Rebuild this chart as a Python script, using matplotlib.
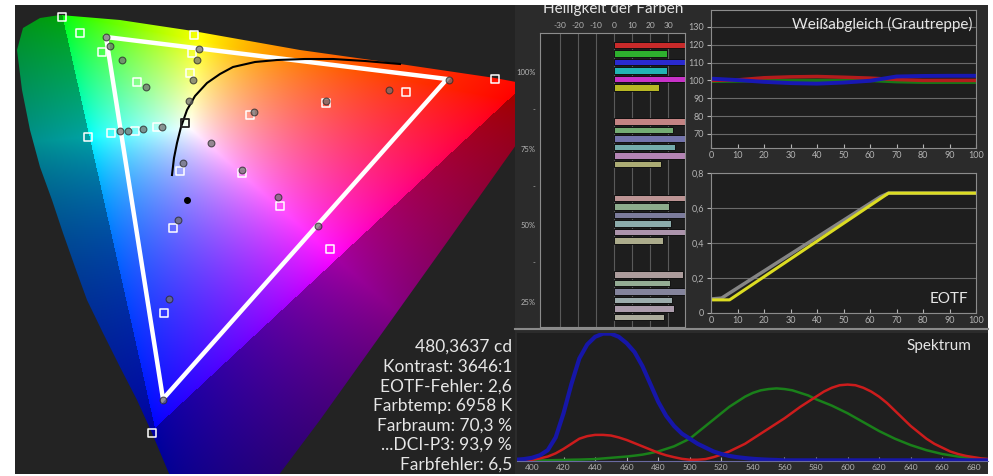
import numpy as np
import matplotlib
matplotlib.use("Agg")
import matplotlib.pyplot as plt
from matplotlib.patches import Polygon, Rectangle
from matplotlib.lines import Line2D

plt.rcParams['font.family'] = ['Lato', 'DejaVu Sans']

# ---- CIE panel data (panel pixel coordinates) ----
locus_x = [40, 60, 120, 193, 300, 400, 495, 516, 516, 450, 380, 320, 278, 170,
           152, 137, 120, 103, 87, 75, 63, 52, 40, 30, 22, 17, 23]
locus_y = [18, 15, 20, 31, 50, 64, 78, 82, 145, 238, 336, 420, 476, 476,
           433, 400, 367, 333, 300, 267, 233, 200, 167, 130, 90, 50, 28]
tri_x = [106, 447, 163]
tri_y = [37, 79, 399]
planck_x = [172, 174, 177, 181, 187, 195, 207, 220, 233, 255, 277, 305, 333,
            365, 400]
planck_y = [175, 158, 143, 127, 110, 96, 83, 74, 67, 62, 60, 59, 59, 61, 64]
target_x = [62, 80, 194, 102, 192, 190, 137, 495, 406, 326, 250, 88, 111, 135,
            157, 180, 242, 280, 173, 330, 164, 152]
target_y = [17, 33, 35, 52, 53, 73, 82, 79, 92, 103, 115, 137, 133, 131,
            127, 171, 173, 206, 228, 249, 313, 433]
white_x, white_y = [185], [123]
meas_x = [106, 110, 199, 122, 197, 193, 146, 389, 449, 326, 254, 189, 162, 143,
          128, 120, 211, 183, 242, 278, 178, 318, 169, 163]
meas_y = [37, 46, 49, 60, 60, 80, 87, 90, 80, 101, 112, 101, 127, 129,
          131, 131, 143, 163, 170, 197, 220, 226, 299, 400]
black_x, black_y = [187], [200]
info_lines = ["480,3637 cd", "Kontrast: 3646:1", "EOTF-Fehler: 2,6",
              "Farbtemp: 6958 K", "Farbraum: 70,3 %", "...DCI-P3: 93,9 %",
              "Farbfehler: 6,5"]

# ---- Helligkeit der Farben ----
bar_colors = [
    ["#c82a2a", "#2eb02e", "#2a2ad0", "#22b4b4", "#c832c8", "#b8b824"],
    ["#c48484", "#74ac74", "#7474ac", "#74acac", "#b484b4", "#acac74"],
    ["#bc9494", "#8cac8c", "#7c7c9c", "#8cacac", "#ac94ac", "#acac8c"],
    ["#ac9c9c", "#94ac94", "#84849c", "#9cacac", "#ac9cac", "#acac9c"],
]
bar_values = [
    [42, 29.3, 42, 29.3, 42, 24.9],
    [42, 32.6, 42, 33.7, 42, 26.0],
    [42, 30.4, 42, 31.5, 42, 27.0],
    [38, 31.0, 42, 32.0, 33, 27.6],
]
hell_ticks = [-30, -20, -10, 0, 10, 20, 30]
hell_labels = ["100%", "-", "75%", "-", "50%", "-", "25%"]

# ---- Weissabgleich ----
wb_x = [0, 10, 20, 30, 40, 50, 60, 70, 80, 90, 100]
wb_red = [100, 100.3, 101.5, 102, 102.2, 101.8, 101.3, 100.5, 100, 100, 100]
wb_green = [99.5, 99.7, 100, 100, 100, 100, 100, 99.3, 99, 99, 99]
wb_blue = [101, 100.2, 99.2, 98.5, 98.2, 98.8, 99.8, 102.2, 102.5, 102.6, 102.6]

# ---- EOTF ----
eotf_ref_x = [0, 4, 64, 67, 100]
eotf_ref_y = [0.08, 0.085, 0.665, 0.685, 0.685]
eotf_x = [0, 7, 67, 100]
eotf_y = [0.075, 0.075, 0.685, 0.685]

# ---- Spektrum ----
nm = list(range(390, 695, 5))
spec_blue = [0.005, 0.01, 0.02, 0.04, 0.08, 0.18, 0.37, 0.6, 0.8, 0.91, 0.97,
             0.995, 0.995, 0.97, 0.92, 0.85, 0.74, 0.6, 0.46, 0.35, 0.27, 0.21,
             0.17, 0.13, 0.1, 0.07, 0.05, 0.035, 0.025, 0.018, 0.012, 0.008,
             0.005, 0.003] + [0] * 27
spec_red = [0, 0.002, 0.005, 0.015, 0.03, 0.055, 0.09, 0.13, 0.17, 0.19, 0.2,
            0.2, 0.195, 0.18, 0.16, 0.135, 0.11, 0.085, 0.06, 0.04, 0.025,
            0.012, 0.005, 0.005, 0.01, 0.025, 0.045, 0.07, 0.1, 0.13, 0.17,
            0.21, 0.25, 0.29, 0.33, 0.375, 0.42, 0.46, 0.5, 0.54, 0.57, 0.59,
            0.595, 0.59, 0.57, 0.54, 0.5, 0.45, 0.39, 0.33, 0.27, 0.22, 0.17,
            0.13, 0.1, 0.07, 0.05, 0.035, 0.025, 0.015, 0.01]
spec_green = [0, 0, 0, 0, 0, 0.002, 0.003, 0.005, 0.006, 0.008, 0.01, 0.015,
              0.02, 0.025, 0.03, 0.037, 0.045, 0.057, 0.07, 0.09, 0.11, 0.14,
              0.17, 0.22, 0.27, 0.32, 0.37, 0.42, 0.46, 0.5, 0.53, 0.55, 0.56,
              0.565, 0.56, 0.55, 0.53, 0.51, 0.48, 0.455, 0.43, 0.4, 0.37,
              0.335, 0.3, 0.265, 0.23, 0.2, 0.17, 0.145, 0.12, 0.1, 0.08,
              0.065, 0.05, 0.04, 0.03, 0.022, 0.015, 0.011, 0.008]
spec_ticks = list(range(400, 700, 20))

W, H = 993, 476
fig = plt.figure(figsize=(9.93, 4.76), dpi=100, facecolor="white")


def px_axes(x0, y0, x1, y1):
    return fig.add_axes([x0 / W, 1 - y1 / H, (x1 - x0) / W, (y1 - y0) / H])


def px_rect(x0, y0, x1, y1, color, z):
    fig.add_artist(Rectangle((x0 / W, 1 - y1 / H), (x1 - x0) / W, (y1 - y0) / H,
                             transform=fig.transFigure, color=color, zorder=z,
                             lw=0))


px_rect(15, 5, 988, 474, "#2b2b2b", -10)
px_rect(15, 5, 515, 474, "#232323", -9)
fig.add_artist(Line2D([515 / W, 988 / W], [1 - 329 / H] * 2, color="#8a8a8a",
                      lw=1.5, transform=fig.transFigure, zorder=-5))

TXT = "#e6e6e6"
TICK = "#b4b4b4"
GRID = "#6a6a6a"
FRAME = "#8c8c8c"

# ================= CIE =================
ax = px_axes(15, 5, 515, 474)
ax.set_xlim(15, 515)
ax.set_ylim(474, 5)
ax.axis("off")

xs = np.arange(15.5, 515, 1.0)
ys = np.arange(5.5, 474, 1.0)
X, Y = np.meshgrid(xs, ys)
G = np.array([62.0, 14.0])
R = np.array([508.0, 100.0])
B = np.array([155.0, 428.0])
Wp = np.array([190.0, 128.0])
T = np.array([[G[0] - B[0], R[0] - B[0]], [G[1] - B[1], R[1] - B[1]]])
Ti = np.linalg.inv(T)


def bary(px, py):
    d = np.stack([px - B[0], py - B[1]], -1)
    w = d @ Ti.T
    wg, wr = w[..., 0], w[..., 1]
    return wr, wg, 1 - wg - wr


wr, wg, wb = bary(X, Y)
wW = np.array(bary(np.array(Wp[0]), np.array(Wp[1])))
lin = np.stack([wr, wg, wb], -1)
neg = np.clip(-wr, 0, None) + np.clip(-wg, 0, None)
c = np.clip(lin, 0, None) / wW
c = c / np.maximum(c.max(-1, keepdims=True), 1e-6)
c = c ** 0.75
shade = np.where(neg > 0, np.clip(0.64 - 0.55 * neg, 0.35, 1), 1.0)
img = np.clip(c * shade[..., None], 0, 1)
im = ax.imshow(img, extent=(15, 515, 474, 5), interpolation="bilinear", zorder=1)
clip = Polygon(np.column_stack([locus_x, locus_y]), closed=True,
               transform=ax.transData)
im.set_clip_path(clip)

ax.add_patch(Polygon(np.column_stack([tri_x, tri_y]), closed=True, fill=False,
                     ec="white", lw=3.2, zorder=3))
ax.plot(planck_x, planck_y, color="black", lw=1.5, zorder=4)
ax.scatter(target_x, target_y, marker="s", s=34, facecolors="none",
           edgecolors="white", linewidths=1.1, zorder=5)
ax.scatter(white_x, white_y, marker="s", s=40, facecolors="none",
           edgecolors="#202020", linewidths=1.3, zorder=5)
ax.scatter(meas_x, meas_y, s=24, color="#707070", alpha=0.75,
           edgecolors="#2a2a2a", linewidths=0.8, zorder=6)
ax.scatter(black_x, black_y, s=16, color="black", zorder=6)

for i, line in enumerate(info_lines):
    ax.text(512, 347 + i * 19.6, line, ha="right", va="center", fontsize=12.5,
            color=TXT, zorder=7)

# ================= Helligkeit der Farben =================
ah = px_axes(540, 33, 685, 327)
ah.set_facecolor("#1e1e1e")
ah.set_xlim(-40.9, 39.2)
ah.set_ylim(33.2, -1.4)
for xv in hell_ticks:
    ah.axvline(xv, color="#5a5a5a", lw=0.8, zorder=1)
for g, (vals, cols) in enumerate(zip(bar_values, bar_colors)):
    pos = [g * 9 + i for i in range(6)]
    ah.barh(pos, vals, height=0.76, color=cols, edgecolor="#111111", lw=0.7,
            zorder=2)
ah.xaxis.tick_top()
ah.set_xticks(hell_ticks)
ah.set_xticklabels([str(v) for v in hell_ticks])
ah.tick_params(axis="x", colors=TICK, labelsize=6, length=0, pad=3)
ytk = []
for g in range(4):
    ytk.append(g * 9 + 3.2)
    if g < 3:
        ytk.append(g * 9 + 7.6)
ah.set_yticks(ytk)
ah.set_yticklabels(hell_labels)
ah.tick_params(axis="y", colors=TICK, labelsize=5.5, length=0, pad=3)
for s in ah.spines.values():
    s.set_color(FRAME)
    s.set_linewidth(0.8)
fig.text(613 / W, 1 - 9 / H, "Helligkeit der Farben", ha="center", va="center",
         fontsize=11, color=TXT, zorder=3)

# ================= Weissabgleich =================
aw = px_axes(711, 10, 976, 148)
aw.set_facecolor("#1e1e1e")
aw.set_xlim(0, 100)
aw.set_ylim(62.1, 139.5)
aw.set_yticks([70, 80, 90, 100, 110, 120, 130])
aw.set_xticks(wb_x)
aw.grid(axis="y", color=GRID, lw=0.8)
aw.set_axisbelow(True)
aw.plot(wb_x, wb_green, color="#187818", lw=2.5)
aw.plot(wb_x, wb_red, color="#b41c1c", lw=2.5)
aw.plot(wb_x, wb_blue, color="#1818b4", lw=2.8)
aw.tick_params(colors=TICK, labelsize=6.5, length=3, pad=2)
aw.tick_params(axis="x", direction="in")
for s in aw.spines.values():
    s.set_color(FRAME)
    s.set_linewidth(0.8)
aw.text(0.985, 0.95, "Weißabgleich (Grautreppe)", transform=aw.transAxes,
        ha="right", va="top", fontsize=11, color=TXT)

# ================= EOTF =================
ae = px_axes(711, 173, 976, 313)
ae.set_facecolor("#1e1e1e")
ae.set_xlim(0, 100)
ae.set_ylim(0, 0.8)
ae.set_yticks([0, 0.2, 0.4, 0.6, 0.8])
ae.set_yticklabels(["0", "0,2", "0,4", "0,6", "0,8"])
ae.set_xticks(wb_x)
ae.grid(axis="y", color=GRID, lw=0.8)
ae.set_axisbelow(True)
ae.plot(eotf_ref_x, eotf_ref_y, color="#858585", lw=2.5)
ae.plot(eotf_x, eotf_y, color="#dcdc22", lw=2.2)
ae.tick_params(colors=TICK, labelsize=6.5, length=3, pad=2)
ae.tick_params(axis="x", direction="in")
for s in ae.spines.values():
    s.set_color(FRAME)
    s.set_linewidth(0.8)
ae.text(0.97, 0.1, "EOTF", transform=ae.transAxes, ha="right", va="center",
        fontsize=11, color=TXT)

# ================= Spektrum =================
asp = px_axes(517, 333, 988, 461)
asp.set_facecolor("#1f1f1f")
asp.set_xlim(390.5, 689)
asp.set_ylim(-0.005, 1.0)
asp.plot(nm, spec_green, color="#1a801a", lw=1.8)
asp.plot(nm, spec_red, color="#cc1c1c", lw=1.8)
asp.plot(nm, spec_blue, color="#1616a8", lw=3)
asp.set_xticks(spec_ticks)
asp.set_yticks([])
asp.tick_params(axis="x", colors=TICK, labelsize=6, length=3, pad=2,
                direction="in")
for k, s in asp.spines.items():
    s.set_visible(k == "bottom")
asp.spines["bottom"].set_color("#6a6aa0")
asp.text(0.965, 0.9, "Spektrum", transform=asp.transAxes, ha="right",
         va="center", fontsize=11, color=TXT)

# white border strip on top (cuts the title like the screenshot)
px_rect(0, 0, 993, 5, "white", 10)

fig.savefig("out.png", dpi=100, facecolor="white")
